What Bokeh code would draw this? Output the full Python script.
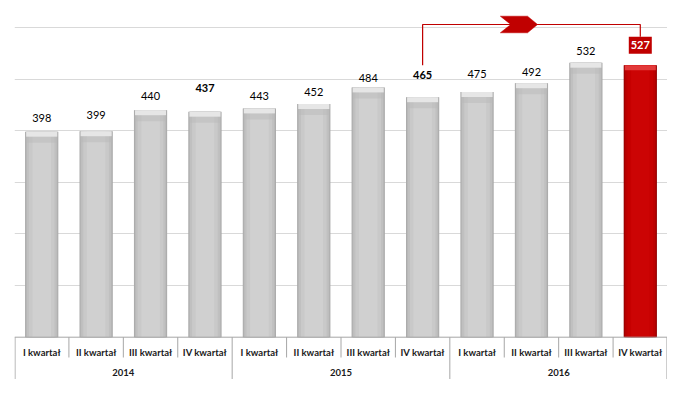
from bokeh.plotting import figure
from bokeh.models import ColumnDataSource, Range1d, FixedTicker, Span
from bokeh.core.properties import value
from bokeh.embed import file_html
from bokeh.resources import INLINE

# ---- data ----
years = ["2014", "2015", "2016"]
quarters = ["I kwartał", "II kwartał", "III kwartał", "IV kwartał"]
values = [398, 399, 440, 437, 443, 452, 484, 465, 475, 492, 532, 527]
bold_labels = [False, False, False, True, False, False, False, True, False, False, False, False]
highlight_index = 11          # bar shown in red with boxed label
arrow_from_index = 7          # arrow starts above this bar
grid_ticks = [100, 200, 300, 400, 500, 600]

# ---- style (label lift above bar top, px) ----
label_lift_px = [14, 16, 14, 24, 13, 11.5, 9, 22, 18.5, 11, 12, 0]

W, H = 667, 390
FRAME_H = 382
y_min, y_max = -103.3, 637.0
px_per_unit = FRAME_H / (y_max - y_min)

n = len(values)
xs = [i + 0.5 for i in range(n)]
q_labels = [quarters[i % 4] for i in range(n)]

p = figure(width=W, height=H, output_backend="svg", toolbar_location=None,
           x_range=Range1d(0, n), y_range=Range1d(y_min, y_max),
           min_border_left=14, min_border_right=0, min_border_top=8, min_border_bottom=0)
p.axis.visible = False
p.outline_line_color = None
p.xgrid.visible = False
p.ygrid.ticker = FixedTicker(ticks=grid_ticks)
p.ygrid.grid_line_color = "#D9D9D9"
p.background_fill_color = "white"

# bars (layered to mimic bevelled shading)
gray_layers = [(0.61, "#A4A4A4"), (0.59, "#B4B4B4"), (0.55, "#C0C0C0"), (0.47, "#C9C9C9"), (0.34, "#D0D0D0")]
red_layers = [(0.61, "#8A0000"), (0.59, "#A80000"), (0.55, "#BC0000"), (0.47, "#C60000"), (0.34, "#CC0404")]

def bar_source(idx):
    tops = [values[i] for i in idx]
    return ColumnDataSource(dict(
        x=[xs[i] for i in idx], top=tops,
        cap=[v - 5 / px_per_unit for v in tops],
        cap2=[v - 11 / px_per_unit for v in tops]))

gsrc = bar_source([i for i in range(n) if i != highlight_index])
rsrc = bar_source([highlight_index])

for w, c in gray_layers:
    p.vbar(x="x", top="top", bottom=0, width=w, source=gsrc, fill_color=c, line_color=None)
p.vbar(x="x", top="top", bottom="cap", width=0.57, source=gsrc, fill_color="#E6E6E6", line_color=None)
p.vbar(x="x", top="cap", bottom="cap2", width=0.57, source=gsrc, fill_color="#B8B8B8",
       line_color=None, fill_alpha=0.45)

for w, c in red_layers:
    p.vbar(x="x", top="top", bottom=0, width=w, source=rsrc, fill_color=c, line_color=None)
p.vbar(x="x", top="top", bottom="cap", width=0.57, source=rsrc, fill_color="#E23A3A", line_color=None)

# baseline
p.add_layout(Span(location=0, dimension="width", line_color="#A6A6A6", line_width=1))

# value labels
for i in range(n):
    if i == highlight_index:
        continue
    p.text(x=[xs[i]], y=[values[i]], text=[str(values[i])], y_offset=-label_lift_px[i],
           text_align="center", text_baseline="middle", text_font=value("Lato"),
           text_font_size="11px", text_color="#000000",
           text_font_style="bold" if bold_labels[i] else "normal")

# highlighted boxed label
hx = xs[highlight_index]
box_y = values[highlight_index] + 20 / px_per_unit
p.rect(x=[hx], y=[box_y], width=23, height=17, width_units="screen", height_units="screen",
       fill_color="#C00000", line_color=None)
p.text(x=[hx], y=[box_y], text=[str(values[highlight_index])], text_align="center",
       text_baseline="middle", text_font=value("Lato"), text_font_size="11px",
       text_color="white", text_font_style="bold")

# arrow annotation
arrow_y = (336.7 - 24) / px_per_unit
x0 = xs[arrow_from_index]
x1 = xs[highlight_index]
left_bottom = values[arrow_from_index] + 32 / px_per_unit
right_bottom = box_y + 8.5 / px_per_unit
p.line(x=[x0, x0, x1, x1], y=[left_bottom, arrow_y, arrow_y, right_bottom],
       line_color="#C00000", line_width=1.2)
span = x1 - x0
cl = x0 + 0.357 * span
cn = x0 + 0.405 * span
ct = x0 + 0.482 * span
ctip = x0 + 0.528 * span
hh = 8.3 / px_per_unit
p.patch(x=[cl, ct, ctip, ct, cl, cn], y=[arrow_y + hh, arrow_y + hh, arrow_y, arrow_y - hh, arrow_y - hh, arrow_y],
        fill_color="#C00000", line_color="#C00000", line_width=0.5)

# category axis drawn inside the frame
q_y = -(351.7 - 336.7) / px_per_unit
yr_y = -(372 - 336.7) / px_per_unit
short_end = -(357 - 336.7) / px_per_unit
long_end = -(378.5 - 336.7) / px_per_unit

p.text(x=xs, y=[q_y] * n, text=q_labels, text_align="center", text_baseline="middle",
       text_font=value("Lato"), text_font_size="9.5px", text_color="#1A1A1A", text_font_style="bold")
yr_x = [4 * k + 2 for k in range(len(years))]
p.text(x=yr_x, y=[yr_y] * len(years), text=years, text_align="center", text_baseline="middle",
       text_font=value("Lato"), text_font_size="9.5px", text_color="#1A1A1A", text_font_style="bold")

sep_x = list(range(n + 1))
sep_x[0] = 0.01
sep_x[-1] = n - 0.01
sep_end = [long_end if i % 4 == 0 else short_end for i in range(n + 1)]
p.segment(x0=sep_x, y0=[0] * (n + 1), x1=sep_x, y1=sep_end, line_color="#A6A6A6", line_width=1)

open("out.html", "w").write(file_html(p, INLINE))
